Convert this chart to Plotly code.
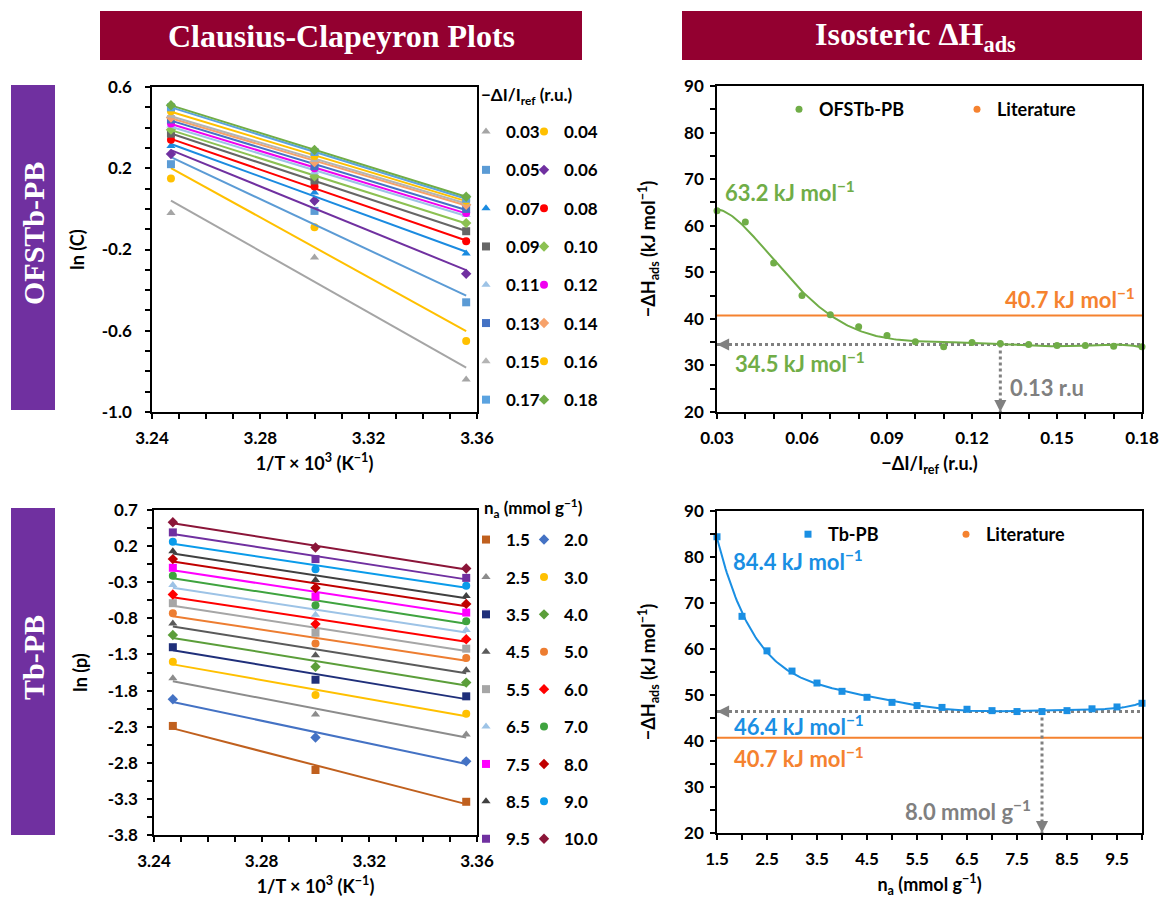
import numpy as np
import plotly.graph_objects as go

W, H = 1161, 906
def fx(p): return p / W
def fy(p): return 1 - p / H

# ---------------- data ----------------
inv_T = [3.247, 3.300, 3.356]          # 1/T x 10^3 (K^-1) for 308, 303, 298 K

ofs_levels = ['0.03', '0.04', '0.05', '0.06', '0.07', '0.08', '0.09', '0.10', '0.11',
              '0.12', '0.13', '0.14', '0.15', '0.16', '0.17', '0.18']
ofs_lnC = [
    [-0.02, -0.24, -0.84],
    [0.15, -0.09, -0.65],
    [0.22, -0.01, -0.46],
    [0.27, 0.04, -0.32],
    [0.31, 0.08, -0.22],
    [0.34, 0.11, -0.16],
    [0.37, 0.14, -0.11],
    [0.39, 0.16, -0.07],
    [0.41, 0.18, -0.03],
    [0.42, 0.20, -0.02],
    [0.44, 0.21, 0.00],
    [0.45, 0.23, 0.02],
    [0.46, 0.24, 0.03],
    [0.48, 0.26, 0.04],
    [0.50, 0.28, 0.05],
    [0.51, 0.29, 0.06],
]
ofs_colors = ['#A5A5A5', '#FFC000', '#5B9BD5', '#7030A0', '#1B8BE0', '#FF0000',
              '#666666', '#8CC152', '#9DC3E6', '#F000F0', '#4472C4', '#F7A26A',
              '#B4B4B4', '#FFC000', '#5BA3E0', '#70AD47']
ofs_symbols = ['triangle-up', 'circle', 'square', 'diamond'] * 4

tb_levels = ['1.5', '2.0', '2.5', '3.0', '3.5', '4.0', '4.5', '5.0', '5.5', '6.0',
             '6.5', '7.0', '7.5', '8.0', '8.5', '9.0', '9.5', '10.0']
tb_lnp = [
    [-2.29, -2.90, -3.34],
    [-1.92, -2.45, -2.78],
    [-1.63, -2.13, -2.41],
    [-1.40, -1.86, -2.12],
    [-1.20, -1.65, -1.88],
    [-1.03, -1.47, -1.69],
    [-0.87, -1.31, -1.52],
    [-0.73, -1.15, -1.35],
    [-0.59, -1.00, -1.22],
    [-0.47, -0.88, -1.09],
    [-0.34, -0.75, -0.96],
    [-0.21, -0.62, -0.84],
    [-0.10, -0.50, -0.72],
    [0.02, -0.38, -0.60],
    [0.13, -0.27, -0.49],
    [0.26, -0.12, -0.35],
    [0.39, 0.02, -0.24],
    [0.53, 0.18, -0.11],
]
tb_colors = ['#C0601E', '#4472C4', '#8C8C8C', '#FFC000', '#1F2F7A', '#5B9E3A',
             '#5A5A5A', '#ED7D31', '#A6A6A6', '#FF0000', '#9DC3E6', '#3FA33F',
             '#FF00FF', '#C00000', '#404040', '#0A9BEA', '#7030A0', '#8B1538']
tb_symbols = ['square', 'diamond', 'triangle-up', 'circle'] * 5

ofs_x = [0.03, 0.04, 0.05, 0.06, 0.07, 0.08, 0.09, 0.10, 0.11, 0.12, 0.13, 0.14,
         0.15, 0.16, 0.17, 0.18]
ofs_dH = [63.2, 60.8, 52.0, 45.0, 40.9, 38.3, 36.4, 35.1, 34.0, 34.9, 34.7, 34.5,
          34.3, 34.3, 34.1, 34.0]

tb_x = [1.5, 2.0, 2.5, 3.0, 3.5, 4.0, 4.5, 5.0, 5.5, 6.0, 6.5, 7.0, 7.5, 8.0,
        8.5, 9.0, 9.5, 10.0]
tb_dH = [84.4, 67.1, 59.6, 55.2, 52.6, 50.8, 49.5, 48.4, 47.7, 47.3, 46.9, 46.6,
         46.4, 46.4, 46.6, 47.0, 47.4, 48.2]

lit_dH = 40.7
ofs_plateau, ofs_sat = 34.5, 0.13
tb_plateau, tb_sat = 46.4, 8.0
dH_min = 20

# ---------------- style ----------------
FONT = 'Lato'
GREEN = '#70AD47'
BLUE = '#1A8FE3'
ORANGE = '#F5822F'
GRAY = '#808080'

fig = go.Figure()

# Clausius-Clapeyron, OFSTb-PB
for i, lab in enumerate(ofs_levels):
    k = np.polyfit(inv_T, ofs_lnC[i], 1)
    xx = np.array([inv_T[0], inv_T[-1]])
    fig.add_trace(go.Scatter(x=xx, y=np.polyval(k, xx), mode='lines', xaxis='x', yaxis='y',
                             line=dict(color=ofs_colors[i], width=2), showlegend=False,
                             legendgroup='o' + lab, hoverinfo='skip'))
    fig.add_trace(go.Scatter(x=inv_T, y=ofs_lnC[i], mode='markers', name=lab,
                             xaxis='x', yaxis='y', legendgroup='o' + lab,
                             legend='legend' if i % 2 == 0 else 'legend2',
                             marker=dict(color=ofs_colors[i], symbol=ofs_symbols[i], size=8),
                             cliponaxis=False))

# Clausius-Clapeyron, Tb-PB
for i, lab in enumerate(tb_levels):
    k = np.polyfit(inv_T, tb_lnp[i], 1)
    xx = np.array([inv_T[0], inv_T[-1]])
    fig.add_trace(go.Scatter(x=xx, y=np.polyval(k, xx), mode='lines', xaxis='x2', yaxis='y2',
                             line=dict(color=tb_colors[i], width=2), showlegend=False,
                             legendgroup='t' + lab, hoverinfo='skip'))
    fig.add_trace(go.Scatter(x=inv_T, y=tb_lnp[i], mode='markers', name=lab,
                             xaxis='x2', yaxis='y2', legendgroup='t' + lab,
                             legend='legend3' if i % 2 == 0 else 'legend4',
                             marker=dict(color=tb_colors[i], symbol=tb_symbols[i], size=8),
                             cliponaxis=False))

# Isosteric dH, OFSTb-PB
p1 = np.polynomial.Polynomial.fit(ofs_x, ofs_dH, 6)
g1 = np.linspace(ofs_x[0], ofs_x[-1], 300)
fig.add_trace(go.Scatter(x=[ofs_x[0], ofs_x[-1]], y=[lit_dH, lit_dH], mode='lines',
                         xaxis='x3', yaxis='y3', line=dict(color=ORANGE, width=2),
                         showlegend=False))
fig.add_trace(go.Scatter(x=[ofs_x[0], ofs_x[-1]], y=[ofs_plateau, ofs_plateau], mode='lines',
                         xaxis='x3', yaxis='y3', line=dict(color=GRAY, width=3, dash='dot'),
                         showlegend=False))
fig.add_trace(go.Scatter(x=[ofs_sat, ofs_sat], y=[ofs_plateau, dH_min], mode='lines',
                         xaxis='x3', yaxis='y3', line=dict(color=GRAY, width=3, dash='dot'),
                         showlegend=False))
fig.add_trace(go.Scatter(x=g1, y=p1(g1), mode='lines', xaxis='x3', yaxis='y3',
                         line=dict(color=GREEN, width=2), showlegend=False))
fig.add_trace(go.Scatter(x=ofs_x, y=ofs_dH, mode='markers', name='OFSTb-PB',
                         xaxis='x3', yaxis='y3', legend='legend5',
                         marker=dict(color=GREEN, size=7), cliponaxis=False))
fig.add_trace(go.Scatter(x=[None], y=[None], mode='markers', name='Literature',
                         xaxis='x3', yaxis='y3', legend='legend5',
                         marker=dict(color=ORANGE, size=7)))

# Isosteric dH, Tb-PB
p2 = np.polynomial.Polynomial.fit(tb_x, tb_dH, 6)
g2 = np.linspace(tb_x[0], tb_x[-1], 300)
fig.add_trace(go.Scatter(x=[tb_x[0], tb_x[-1]], y=[lit_dH, lit_dH], mode='lines',
                         xaxis='x4', yaxis='y4', line=dict(color=ORANGE, width=2),
                         showlegend=False))
fig.add_trace(go.Scatter(x=[tb_x[0], tb_x[-1]], y=[tb_plateau, tb_plateau], mode='lines',
                         xaxis='x4', yaxis='y4', line=dict(color=GRAY, width=3, dash='dot'),
                         showlegend=False))
fig.add_trace(go.Scatter(x=[tb_sat, tb_sat], y=[tb_plateau, dH_min], mode='lines',
                         xaxis='x4', yaxis='y4', line=dict(color=GRAY, width=3, dash='dot'),
                         showlegend=False))
fig.add_trace(go.Scatter(x=g2, y=p2(g2), mode='lines', xaxis='x4', yaxis='y4',
                         line=dict(color=BLUE, width=2), showlegend=False))
fig.add_trace(go.Scatter(x=tb_x, y=tb_dH, mode='markers', name='Tb-PB',
                         xaxis='x4', yaxis='y4', legend='legend6',
                         marker=dict(color=BLUE, size=7, symbol='square'), cliponaxis=False))
fig.add_trace(go.Scatter(x=[None], y=[None], mode='markers', name='Literature',
                         xaxis='x4', yaxis='y4', legend='legend6',
                         marker=dict(color=ORANGE, size=7)))

# ---------------- axes ----------------
tickfont = dict(family=FONT, size=17, color='black', weight='bold')
titlefont = dict(family=FONT, size=18, color='black', weight='bold')

def axis(domain, anchor, rng, title, standoff, minor_dtick, minor_tick0, **kw):
    d = dict(domain=domain, anchor=anchor, range=rng, showline=True, linecolor='black',
             linewidth=1.5, mirror=True, ticks='outside', ticklen=5, tickwidth=1.5,
             tickcolor='black', showgrid=False, zeroline=False, tickfont=tickfont,
             automargin=False,
             title=dict(text=title, font=titlefont, standoff=standoff),
             minor=dict(tickmode='linear', dtick=minor_dtick, tick0=minor_tick0,
                        ticks='outside', ticklen=5, tickwidth=1.5, tickcolor='black',
                        showgrid=False))
    d.update(kw)
    return d

xt_cc = '1/T × 10<sup>3</sup> (K<sup>−1</sup>)'
yt_dh = '−ΔH<sub>ads</sub> (kJ mol<sup>−1</sup>)'

fig.update_layout(
    xaxis=axis([fx(152), fx(477)], 'y', [3.24, 3.36], xt_cc, 10, 0.01, 3.24,
               tickmode='linear', tick0=3.24, dtick=0.04, tickformat='.2f', ticklabelstandoff=5),
    yaxis=axis([fy(412), fy(87)], 'x', [-1.0, 0.6], 'ln (C)', 12, 0.1, -1.0,
               tickmode='array', tickvals=[0.6, 0.2, -0.2, -0.6, -1.0],
               ticktext=['0.6', '0.2', '-0.2', '-0.6', '-1.0'], ticklabelstandoff=10,
               automargin=True),
    xaxis2=axis([fx(154), fx(477)], 'y2', [3.24, 3.36], xt_cc, 10, 0.01, 3.24,
                tickmode='linear', tick0=3.24, dtick=0.04, tickformat='.2f', ticklabelstandoff=5),
    yaxis2=axis([fy(835), fy(510)], 'x2', [-3.8, 0.7], 'ln (p)', 15, 0.25, -3.8,
                tickmode='array', tickvals=[0.7, 0.2, -0.3, -0.8, -1.3, -1.8, -2.3, -2.8, -3.3, -3.8],
                ticktext=['0.7', '0.2', '-0.3', '-0.8', '-1.3', '-1.8', '-2.3', '-2.8', '-3.3', '-3.8'],
                ticklabelstandoff=6, automargin=True),
    xaxis3=axis([fx(717), fx(1142)], 'y3', [0.03, 0.18], '−ΔI/I<sub>ref</sub> (r.u.)', 10, 0.01, 0.03,
                tickmode='linear', tick0=0.03, dtick=0.03, tickformat='.2f', ticklabelstandoff=5),
    yaxis3=axis([fy(412), fy(86)], 'x3', [20, 90], yt_dh, 24, 5, 20,
                tickmode='linear', tick0=20, dtick=10, ticklabelstandoff=3),
    xaxis4=axis([fx(717), fx(1142)], 'y4', [1.5, 10], 'n<sub>a</sub> (mmol g<sup>−1</sup>)', 10, 0.5, 1.5,
                tickmode='linear', tick0=1.5, dtick=1, tickformat='.1f', ticklabelstandoff=5),
    yaxis4=axis([fy(833), fy(511)], 'x4', [20, 90], yt_dh, 24, 5, 20,
                tickmode='linear', tick0=20, dtick=10, ticklabelstandoff=3),
)

# ---------------- legends ----------------
legfont = dict(family=FONT, size=17, color='black', weight='bold')
def vleg(x, y, gap):
    return dict(x=fx(x), y=fy(y), xanchor='left', yanchor='top', orientation='v',
                traceorder='grouped', tracegroupgap=gap, bgcolor='rgba(0,0,0,0)',
                font=legfont, itemwidth=30, borderwidth=0)

def hleg(x, y, ew):
    return dict(x=fx(x), y=fy(y), xanchor='left', yanchor='top', orientation='h',
                entrywidth=ew, entrywidthmode='pixels', bgcolor='rgba(0,0,0,0)',
                font=dict(family=FONT, size=18, color='black', weight='bold'),
                itemwidth=30, borderwidth=0)

fig.update_layout(
    legend=vleg(466, 114, 13.2),
    legend2=vleg(524, 114, 13.2),
    legend3=vleg(466, 522, 12.3),
    legend4=vleg(524, 522, 12.3),
    legend5=hleg(779, 91, 133),
    legend6=hleg(788, 516, 113),
)

# ---------------- decorations ----------------
HEAD_RED = '#930030'
PURPLE = '#7030A0'
shapes = [
    dict(type='rect', xref='paper', yref='paper', x0=fx(100), x1=fx(582), y0=fy(60), y1=fy(11),
         fillcolor=HEAD_RED, line=dict(width=0)),
    dict(type='rect', xref='paper', yref='paper', x0=fx(682), x1=fx(1142), y0=fy(60), y1=fy(11),
         fillcolor=HEAD_RED, line=dict(width=0)),
    dict(type='rect', xref='paper', yref='paper', x0=fx(11), x1=fx(55), y0=fy(410), y1=fy(85),
         fillcolor=PURPLE, line=dict(width=0)),
    dict(type='rect', xref='paper', yref='paper', x0=fx(11), x1=fx(55), y0=fy(835), y1=fy(508),
         fillcolor=PURPLE, line=dict(width=0)),
]

serif = dict(family='Liberation Serif', size=32, color='white', weight='bold')

def ann(x, y, text, color, xanchor='left', size=22):
    return dict(xref='paper', yref='paper', x=fx(x), y=fy(y), text=text, showarrow=False,
                xanchor=xanchor, yanchor='middle',
                font=dict(family=FONT, size=size, color=color, weight='bold'))

def banner(x, y, text, angle=0, size=32):
    f = dict(serif)
    f['size'] = size
    return dict(xref='paper', yref='paper', x=fx(x), y=fy(y), text=text, showarrow=False,
                xanchor='center', yanchor='middle', textangle=angle, font=f)

annotations = [
    banner(341, 36, 'Clausius-Clapeyron Plots'),
    banner(915, 37, 'Isosteric ΔH<sub>ads</sub>'),
    banner(33, 234, 'OFSTb-PB', -90, 30),
    banner(33, 658, 'Tb-PB', -90, 30),
    ann(479, 96, '−ΔI/I<sub>ref</sub> (r.u.)', 'black', size=17),
    ann(482, 508, 'n<sub>a</sub> (mmol g<sup>−1</sup>)', 'black', size=17),
    ann(723, 192, '63.2 kJ mol<sup>−1</sup>', GREEN),
    ann(1137, 298, '40.7 kJ mol<sup>−1</sup>', ORANGE, xanchor='right'),
    ann(733, 362, '34.5 kJ mol<sup>−1</sup>', GREEN),
    ann(1008, 387, '0.13 r.u', GRAY),
    ann(731, 560, '84.4 kJ mol<sup>−1</sup>', BLUE),
    ann(732, 725, '46.4 kJ mol<sup>−1</sup>', BLUE),
    ann(732, 757, '40.7 kJ mol<sup>−1</sup>', ORANGE),
    ann(903, 810, '8.0 mmol g<sup>−1</sup>', GRAY),
    # arrow heads of the dotted guide lines
    dict(xref='x3', yref='y3', x=ofs_x[0], y=ofs_plateau, ax=14, ay=0, text='', showarrow=True,
         arrowhead=2, arrowsize=1.1, arrowwidth=2.2, arrowcolor=GRAY, standoff=0),
    dict(xref='x3', yref='y3', x=ofs_sat, y=dH_min, ax=0, ay=-14, text='', showarrow=True,
         arrowhead=2, arrowsize=1.1, arrowwidth=2.2, arrowcolor=GRAY, standoff=0),
    dict(xref='x4', yref='y4', x=tb_x[0], y=tb_plateau, ax=14, ay=0, text='', showarrow=True,
         arrowhead=2, arrowsize=1.1, arrowwidth=2.2, arrowcolor=GRAY, standoff=0),
    dict(xref='x4', yref='y4', x=tb_sat, y=dH_min, ax=0, ay=-14, text='', showarrow=True,
         arrowhead=2, arrowsize=1.1, arrowwidth=2.2, arrowcolor=GRAY, standoff=0),
]

fig.update_layout(width=W, height=H, margin=dict(l=0, r=0, t=0, b=0, autoexpand=False),
                  paper_bgcolor='white', plot_bgcolor='white',
                  shapes=shapes, annotations=annotations,
                  font=dict(family=FONT, color='black'))

fig.write_html('out.html')
